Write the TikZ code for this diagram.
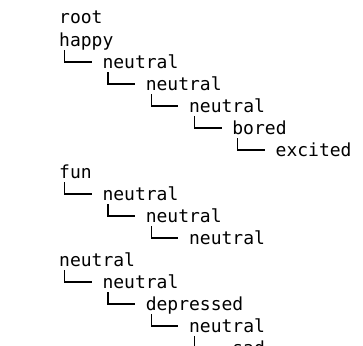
\documentclass[tikz,border=0pt]{standalone}
\usepackage{fontspec}
\newfontfamily\treefont{DejaVu Sans Mono}
\begin{document}
\begin{tikzpicture}[x=1pt,y=1pt,
  lbl/.style={anchor=base west, inner sep=0pt, outer sep=0pt,
    font=\treefont\fontsize{18}{22}\selectfont},
  branch/.style={line width=1.3pt, line cap=butt}]
\useasboundingbox (0,0) rectangle (363,-345);
\clip (0,0) rectangle (363,-345);
\fill[white] (0,0) rectangle (363,-345);
% indentation step: four monospace cells
\def\ind{43.3}
\node[lbl] (r)  at (59.2, -24) {root};
% first tree
\node[lbl] (h)  at (59.2, -46) {happy};
\node[lbl] (h1) at (59.2+\ind, -68) {neutral};
\node[lbl] (h2) at (59.2+2*\ind, -90) {neutral};
\node[lbl] (h3) at (59.2+3*\ind, -112) {neutral};
\node[lbl] (h4) at (59.2+4*\ind, -134) {bored};
\node[lbl] (h5) at (59.2+5*\ind, -156) {excited};
% second tree
\node[lbl] (f)  at (59.2, -178) {fun};
\node[lbl] (f1) at (59.2+\ind, -200) {neutral};
\node[lbl] (f2) at (59.2+2*\ind, -222) {neutral};
\node[lbl] (f3) at (59.2+3*\ind, -244) {neutral};
% third tree
\node[lbl] (n)  at (59.2, -266) {neutral};
\node[lbl] (n1) at (59.2+\ind, -288) {neutral};
\node[lbl] (n2) at (59.2+2*\ind, -310) {depressed};
\node[lbl] (n3) at (59.2+3*\ind, -332) {neutral};
\node[lbl] (n4) at (59.2+4*\ind, -354) {sad};
% elbow connectors from each parent to its child
\foreach \p/\c in {h/h1, h1/h2, h2/h3, h3/h4, h4/h5,
                   f/f1, f1/f2, f2/f3,
                   n/n1, n1/n2, n2/n3, n3/n4}
  \draw[branch] ([xshift=5.4pt,yshift=-4pt]\p.base west)
    |- ([xshift=-10.8pt,yshift=6pt]\c.base west);
\end{tikzpicture}
\end{document}
